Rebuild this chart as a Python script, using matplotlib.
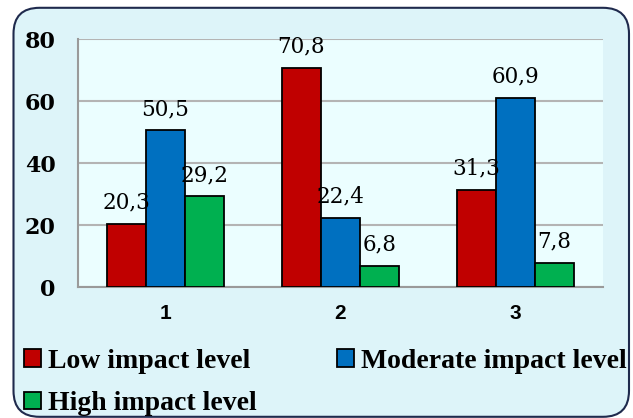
import numpy as np
import matplotlib.pyplot as plt
from matplotlib.patches import FancyBboxPatch, Rectangle

categories = ['1', '2', '3']
low = [20.3, 70.8, 31.3]
moderate = [50.5, 22.4, 60.9]
high = [29.2, 6.8, 7.8]
series_names = ['Low impact level', 'Moderate impact level', 'High impact level']
colors = ['#C00000', '#0070C0', '#00B050']

fig = plt.figure(figsize=(6.33, 4.18), dpi=100)
fig.patch.set_facecolor('white')

# rounded outer frame, in inches so corners are circular
frame = FancyBboxPatch((0.135, 0.012), 6.155, 4.09,
                       boxstyle='round,pad=0,rounding_size=0.26',
                       transform=fig.dpi_scale_trans, facecolor='#DDF4F9',
                       edgecolor='#1F2A4D', linewidth=1.5, zorder=-10)
fig.patches.append(frame)

ax = fig.add_axes([78 / 633, 1 - 287 / 418, 525 / 633, 248 / 418])
ax.set_facecolor('#EBFEFF')

x = np.arange(len(categories))
w = 0.223
for i, vals in enumerate([low, moderate, high]):
    ax.bar(x + (i - 1) * w, vals, w, color=colors[i], edgecolor='black',
           linewidth=1.3, zorder=3, label=series_names[i])
    for xi, v in zip(x + (i - 1) * w, vals):
        ax.annotate(f'{v:.1f}'.replace('.', ','), (xi, v), xytext=(0, 11),
                    textcoords='offset points', ha='center', va='baseline',
                    fontsize=15.5, family='DejaVu Serif', zorder=4)

ax.set_xlim(-0.5, 2.5)
ax.set_ylim(0, 80)
ax.set_yticks([0, 20, 40, 60, 80])
ax.set_xticks(x)
ax.set_xticklabels(categories, fontsize=15, fontweight='bold', family='Liberation Sans')
for lab in ax.get_yticklabels():
    lab.set_fontsize(16)
    lab.set_fontweight('bold')
    lab.set_family('DejaVu Serif')
ax.tick_params(axis='both', length=0)
ax.tick_params(axis='y', pad=16)
ax.tick_params(axis='x', pad=12)
ax.grid(axis='y', color='#B4B4B4', linewidth=1.5, zorder=0)
for s in ['top', 'right']:
    ax.spines[s].set_visible(False)
for s in ['left', 'bottom']:
    ax.spines[s].set_color('#9A9A9A')
    ax.spines[s].set_linewidth(1.5)

handles = [Rectangle((0, 0), 1, 1, facecolor=c, edgecolor='black', linewidth=1.3)
           for c in colors]
order = [0, 2, 1]
leg = fig.legend([handles[k] for k in order], [series_names[k] for k in order],
                 ncol=2, loc='upper left', bbox_to_anchor=(24 / 633, 1 - 349 / 418),
                 frameon=False, prop={'family': 'Liberation Serif', 'weight': 'bold', 'size': 20},
                 handlelength=0.6, handleheight=0.6, handletextpad=0.25,
                 columnspacing=2.9, labelspacing=0.62, borderpad=0, borderaxespad=0)

fig.savefig('out.png', dpi=100)
